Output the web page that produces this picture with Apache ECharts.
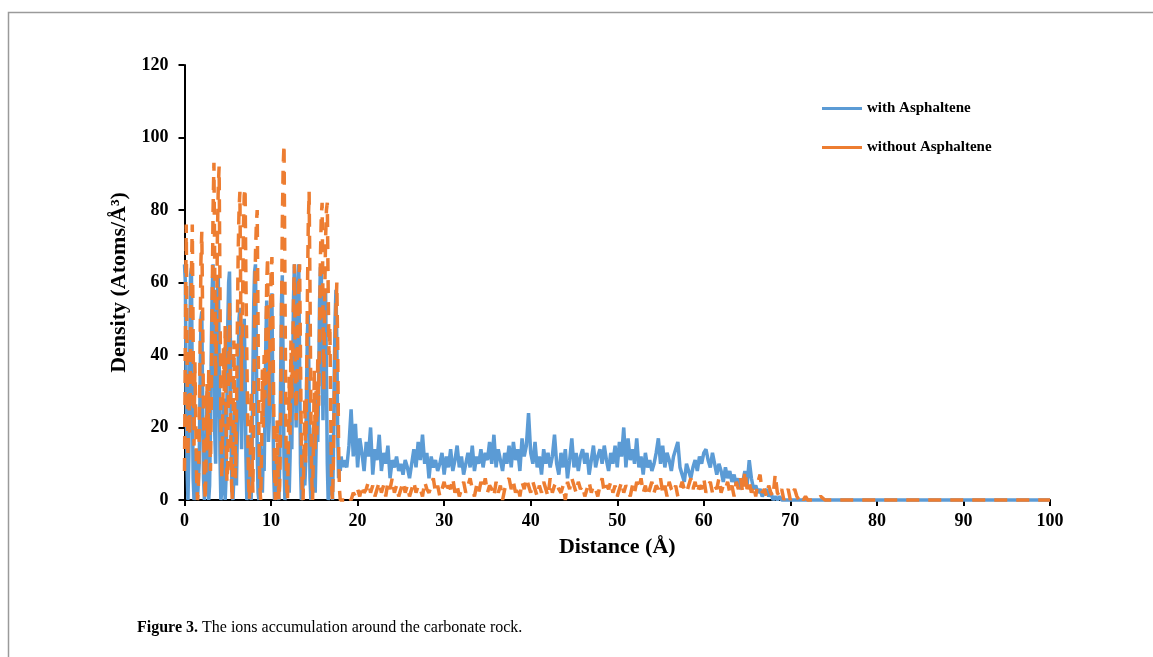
<!DOCTYPE html>
<html>
<head>
<meta charset="utf-8">
<script src="https://cdn.jsdelivr.net/npm/echarts@6/dist/echarts.min.js"></script>
<style>
  html, body { margin: 0; padding: 0; background: #fff; }
  #chart { width: 1153px; height: 657px; }
</style>
</head>
<body>
<div id="chart"></div>
<script>
// near-surface layers: 0 to 18.4 A, step 0.1
const nearStart = 0, nearStep = 0.1;
const withNear = [
  65, 60, 28, 8, 0, 12, 38, 62, 64, 30,
  6, 0, 2, 14, 4, 0, 0, 10, 32, 50,
  52, 26, 6, 0, 0, 8, 30, 12, 0, 4,
  20, 42, 58, 65, 48, 18, 10, 34, 56, 62,
  40, 12, 0, 2, 10, 28, 8, 0, 6, 26,
  48, 60, 63, 44, 14, 2, 0, 6, 24, 10,
  4, 18, 38, 50, 53, 26, 14, 30, 46, 50,
  36, 12, 0, 0, 6, 18, 6, 0, 12, 34,
  54, 63, 65, 42, 14, 2, 0, 4, 16, 6,
  2, 14, 8, 24, 44, 55, 40, 16, 22, 40,
  52, 57, 30, 8, 0, 0, 4, 12, 2, 0,
  10, 32, 54, 62, 36, 10, 0, 0, 4, 16,
  6, 2, 12, 28, 14, 36, 56, 65, 36, 20,
  42, 60, 65, 38, 10, 0, 0, 4, 14, 4,
  10, 30, 46, 52, 28, 6, 0, 0, 8, 20,
  6, 2, 14, 30, 16, 32, 54, 64, 65, 40,
  22, 38, 52, 58, 34, 10, 0, 0, 6, 18,
  4, 0, 12, 34, 50, 58, 44, 18, 6, 10,
  8, 12, 10, 11, 9
];
const withoutNear = [
  8, 45, 76, 38, 12, 30, 18, 40, 62, 76,
  44, 15, 38, 22, 6, 0, 3, 18, 42, 66,
  74, 50, 22, 6, 0, 12, 32, 14, 36, 20,
  8, 28, 55, 80, 93, 62, 34, 46, 72, 86,
  92, 58, 24, 6, 18, 42, 30, 48, 20, 5,
  10, 35, 55, 30, 8, 0, 14, 44, 26, 6,
  22, 46, 68, 80, 85, 54, 30, 52, 74, 84,
  86, 60, 40, 22, 5, 0, 10, 30, 12, 2,
  24, 50, 68, 76, 80, 48, 18, 4, 0, 12,
  36, 20, 40, 28, 44, 60, 67, 40, 26, 50,
  62, 67, 52, 28, 8, 0, 6, 22, 8, 0,
  4, 20, 48, 76, 92, 98, 62, 24, 4, 0,
  14, 34, 18, 44, 28, 40, 56, 65, 38, 22,
  34, 48, 60, 65, 40, 16, 3, 0, 12, 28,
  10, 30, 56, 76, 85, 58, 26, 6, 0, 16,
  36, 14, 30, 18, 40, 26, 46, 66, 78, 82,
  54, 30, 56, 72, 80, 82, 58, 40, 48, 22,
  4, 0, 10, 26, 40, 52, 60, 42, 16, 3,
  0, 0, 0, 0, 0
];

// bulk region: 18.5 to 72 A, step 0.25
const bulkStart = 18.5, bulkStep = 0.25;
const withBulk = [
  11, 9, 15, 25, 12, 21, 9, 17, 13, 8, 16, 12, 20, 7, 14, 11,
  18, 8, 13, 10, 15, 6, 11, 9, 12, 8, 10, 7, 11, 9, 6, 10,
  14, 9, 16, 11, 18, 10, 13, 6, 12, 9, 11, 8, 10, 13, 7, 12,
  9, 14, 8, 11, 15, 9, 12, 7, 10, 13, 9, 15, 8, 12, 10, 14,
  9, 13, 11, 16, 10, 18, 9, 14, 11, 8, 13, 10, 15, 9, 16, 11,
  14, 8, 17, 12, 15, 24, 13, 10, 16, 9, 12, 7, 14, 10, 13, 9,
  12, 18, 10, 7, 13, 9, 14, 6, 11, 17, 9, 13, 8, 12, 14, 10,
  13, 7, 11, 15, 9, 12, 14, 10, 15, 11, 8, 13, 10, 15, 9, 16,
  12, 20, 9, 17, 11, 14, 10, 17, 9, 12, 7, 13, 9, 11, 8, 10,
  13, 17, 10, 15, 9, 13, 11, 8, 12, 14, 16, 9, 7, 5, 10, 8,
  6, 9, 11, 8, 12, 10, 13, 14, 11, 9, 13, 10, 7, 10, 8, 5,
  9, 6, 8, 5, 7, 4, 6, 3, 5, 8, 4, 11, 6, 3, 4, 2,
  3, 1, 2, 3, 1, 2, 0, 1, 0, 1, 0, 0, 0, 0, 0, 0,
  0, 0, 0, 0, 0, 0, 0
];
const withoutBulk = [
  0, 0, 1, 0, 2, 1, 3, 1, 4, 2, 3, 5, 2, 4, 1, 3,
  5, 2, 4, 1, 5, 3, 6, 2, 4, 1, 3, 5, 2, 4, 1, 3,
  5, 2, 4, 3, 1, 5, 3, 2, 4, 6, 2, 4, 1, 3, 5, 2,
  4, 3, 6, 2, 4, 1, 3, 5, 2, 4, 6, 3, 1, 4, 2, 5,
  3, 6, 2, 4, 3, 1, 5, 2, 4, 0, 3, 5, 6, 3, 5, 2,
  4, 1, 5, 3, 6, 4, 2, 5, 3, 1, 4, 2, 5, 3, 1, 6,
  2, 4, 5, 3, 2, 4, 0, 5, 3, 6, 4, 2, 5, 3, 4, 1,
  3, 5, 2, 4, 3, 1, 4, 6, 2, 4, 3, 5, 2, 4, 1, 3,
  5, 2, 4, 3, 1, 4, 2, 5, 3, 6, 2, 4, 1, 3, 5, 2,
  4, 3, 6, 2, 4, 1, 5, 3, 2, 4, 1, 3, 5, 3, 2, 4,
  6, 3, 5, 2, 4, 3, 6, 2, 4, 5, 2, 4, 3, 6, 2, 4,
  3, 5, 2, 4, 1, 5, 3, 6, 2, 8, 3, 5, 2, 4, 1, 5,
  7, 2, 3, 1, 4, 2, 1, 7, 2, 1, 3, 0, 2, 3, 0, 2,
  3, 1, 0, 1, 0, 1, 0
];

// empty region up to 100 A
const tailDistance = [73, 73.5, 74, 75, 80, 85, 90, 95, 100];
const withTail = [0, 0, 0, 0, 0, 0, 0, 0, 0];
const withoutTail = [0, 1, 0, 0, 0, 0, 0, 0, 0];

const xTicks = { min: 0, max: 100, interval: 10 };
const yTicks = { min: 0, max: 120, interval: 20 };

function buildSeries(near, bulk, tail) {
  let pts = [];
  near.forEach((v, i) => pts.push([+(nearStart + i * nearStep).toFixed(2), v]));
  bulk.forEach((v, i) => pts.push([+(bulkStart + i * bulkStep).toFixed(2), v]));
  tail.forEach((v, i) => pts.push([tailDistance[i], v]));
  return pts;
}

const font = '"Liberation Serif", "Times New Roman", serif';
const chart = echarts.init(document.getElementById('chart'));

chart.setOption({
  animation: false,
  backgroundColor: '#fff',
  grid: { left: 184.5, right: 103, top: 65, bottom: 157 },
  legend: {
    orient: 'vertical',
    left: 817,
    top: 96,
    icon: 'rect',
    itemWidth: 40,
    itemHeight: 3,
    itemGap: 24,
    textStyle: { fontFamily: font, fontWeight: 'bold', fontSize: 15, color: '#000' },
    data: ['with Asphaltene', 'without Asphaltene']
  },
  xAxis: {
    type: 'value',
    ...xTicks,
    name: 'Distance (Å)',
    nameLocation: 'middle',
    nameGap: 36,
    nameTextStyle: { fontFamily: font, fontWeight: 'bold', fontSize: 22, color: '#000' },
    axisLine: { lineStyle: { color: '#000', width: 2 } },
    axisTick: { length: 6, lineStyle: { color: '#000', width: 2 } },
    axisLabel: { margin: 12, fontFamily: font, fontWeight: 'bold', fontSize: 18, color: '#000' },
    splitLine: { show: false }
  },
  yAxis: {
    type: 'value',
    ...yTicks,
    name: 'Density (Atoms/Å³)',
    nameLocation: 'middle',
    nameGap: 54,
    nameTextStyle: { fontFamily: font, fontWeight: 'bold', fontSize: 22, color: '#000' },
    axisLine: { show: true, lineStyle: { color: '#000', width: 2 } },
    axisTick: { show: true, length: 6, lineStyle: { color: '#000', width: 2 } },
    axisLabel: { margin: 16, fontFamily: font, fontWeight: 'bold', fontSize: 18, color: '#000' },
    splitLine: { show: false }
  },
  series: [
    {
      name: 'with Asphaltene',
      type: 'line',
      data: buildSeries(withNear, withBulk, withTail),
      showSymbol: false,
      sampling: null,
      clip: false,
      itemStyle: { color: '#5B9BD5' },
      lineStyle: { color: '#5B9BD5', width: 3.5 },
      z: 2
    },
    {
      name: 'without Asphaltene',
      type: 'line',
      data: buildSeries(withoutNear, withoutBulk, withoutTail),
      showSymbol: false,
      sampling: null,
      clip: false,
      itemStyle: { color: '#ED7D31' },
      lineStyle: { color: '#ED7D31', width: 3.5, type: [13, 9] },
      z: 3
    }
  ],
  graphic: [
    {
      type: 'polyline',
      shape: { points: [[8.5, 657], [8.5, 12.5], [1153, 12.5]] },
      style: { stroke: '#9a9a9a', lineWidth: 1.5, fill: null }
    },
    {
      type: 'text',
      left: 137,
      top: 620,
      style: {
        text: '{b|Figure 3.} The ions accumulation around the carbonate rock.',
        fontFamily: font,
        fontSize: 16,
        fill: '#000',
        rich: { b: { fontFamily: font, fontWeight: 'bold', fontSize: 16, fill: '#000' } }
      }
    }
  ]
});
</script>
</body>
</html>
